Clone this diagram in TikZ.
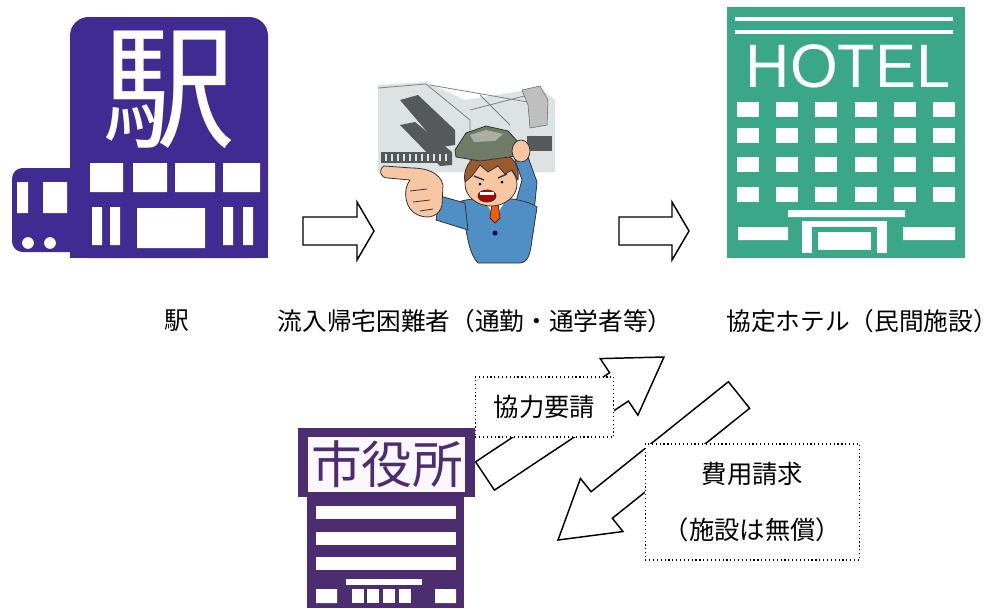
\documentclass[tikz,border=0pt]{standalone}
\usepackage{fontspec}
\setmainfont{Liberation Sans}
\newfontfamily\jp{Noto Sans CJK JP}
\usetikzlibrary{calc,positioning}
\definecolor{EkiPurple}{HTML}{3F2B91}
\definecolor{CityPurple}{HTML}{4B2D70}
\definecolor{CityLight}{HTML}{FAF7FD}
\definecolor{HotelGreen}{HTML}{3AA888}
\definecolor{SuitBlue}{HTML}{4F8FC4}
\definecolor{Skin}{HTML}{F7C7A3}
\definecolor{Hair}{HTML}{9A5B2E}
\definecolor{Helmet}{HTML}{6F7B66}
\definecolor{Ruin}{HTML}{DCE3E2}
\definecolor{RuinDark}{HTML}{55595A}

% block arrow: tail, tip, shaft half width, head half width, head length
\newcommand{\fatarrow}[5]{%
  \coordinate (hb) at ($(#2)!#5!(#1)$);
  \draw[fat arrow] ($(#1)!#3!90:(#2)$) -- ($(hb)!#3!90:(#2)$) -- ($(hb)!#4!90:(#2)$)
    -- (#2) -- ($(hb)!#4!-90:(#2)$) -- ($(hb)!#3!-90:(#2)$) -- ($(#1)!#3!-90:(#2)$) -- cycle;
}

\begin{document}
\begin{tikzpicture}[
          x=0.75pt, y=-0.75pt,
          fat arrow/.style={draw=black, fill=white, line width=1.1pt, line join=miter},
          lbl/.style={font=\jp\fontsize{18.5}{22}\selectfont, inner sep=0pt},
          note/.style={draw, dotted, line width=0.9pt, fill=white, align=center, font=\jp\fontsize{19}{42.5}\selectfont},
          toon/.style={draw=black!80, line width=0.6pt, line join=round}
        ]
          \useasboundingbox (0,0) rectangle (1003,608);
          \fill[white] (0,0) rectangle (1003,608);

          % station
          \fill[EkiPurple, rounded corners=8] (12,168) rectangle (90,252);
          \fill[EkiPurple, rounded corners=14] (70,17) rectangle (268,258);
          \fill[EkiPurple] (70,200) rectangle (268,258);
          \fill[white] (17,182) rectangle (28,213) (43,182) rectangle (67,213);
          \filldraw[fill=white, draw=EkiPurple, line width=1.5pt] (28,243) circle (7) (50,243) circle (7);
          \fill[white] (90,163) rectangle (123,192) (133,163) rectangle (167,192)
                       (175,163) rectangle (215,192) (223,163) rectangle (260,192);
          \fill[white] (92,207) rectangle (102,245) (110,207) rectangle (120,245)
                       (137,208) rectangle (205,248)
                       (223,207) rectangle (233,245) (243,207) rectangle (253,245);
          \node[text=white, font=\jp\fontsize{100}{100}\selectfont, inner sep=0pt] (ekisign) at (169,90) {駅};

          % traveller: ruined building behind
          \fill[Ruin] (378,85) -- (426,82) -- (465,100) -- (540,88) -- (555,100) -- (555,172) -- (378,172) -- cycle;
          \fill[RuinDark] (400,100) -- (418,95) -- (455,130) -- (455,145) -- (440,147) -- cycle;
          \fill[RuinDark] (400,125) -- (415,122) -- (452,152) -- (452,165) -- (440,166) -- cycle;
          \draw[gray, line width=0.6pt] (378,88) -- (426,84) -- (470,120) -- (470,170)
                (430,85) -- (545,105) (470,110) -- (540,92) (480,95) -- (510,125);
          \filldraw[fill=gray!50, draw=gray!80!black] (522,90) -- (540,86) -- (548,100) -- (547,125) -- (530,128) -- (528,105) -- cycle;
          \fill[RuinDark] (527,136) rectangle (552,151);
          \fill[RuinDark] (381,152) rectangle (450,163);
          \foreach \x in {386,392,...,446}
            \draw[Ruin, line width=1pt] (\x,154) -- (\x,161);

          % traveller: man with helmet
          \filldraw[toon, fill=SuitBlue] (515,205) -- (522,180) -- (515,160) -- (528,157) -- (537,182) -- (534,212) -- cycle;
          \filldraw[toon, fill=SuitBlue] (450,205) .. controls (470,195) and (520,195) .. (537,207)
            -- (532,240) .. controls (530,255) and (528,262) .. (520,263) -- (478,263)
            .. controls (470,255) and (468,240) .. (465,225) -- cycle;
          \fill[white] (484,200) -- (506,200) -- (495,217) -- cycle;
          \filldraw[toon, fill=orange!70!red] (492,204) -- (498,204) -- (500,218) -- (495,223) -- (490,218) -- cycle;
          \fill[blue!40!black] (495,233) circle (2.5);
          \filldraw[toon, fill=SuitBlue] (465,203) -- (440,196) -- (436,220) -- (468,230) -- cycle;
          \filldraw[toon, fill=Skin] (384,166) .. controls (378,170) and (380,178) .. (388,178) -- (410,180)
            .. controls (402,190) and (405,210) .. (418,215) .. controls (430,220) and (440,215) .. (442,205)
            -- (443,185) .. controls (440,172) and (425,168) .. (412,168) -- cycle;
          \draw[toon] (410,191) -- (427,189) (413,202) -- (430,200) (420,211) -- (433,209);
          \filldraw[toon, fill=Skin] (491,184) ellipse (26 and 22);
          \filldraw[toon, fill=Hair] (465,182) .. controls (462,165) and (475,152) .. (492,152)
            .. controls (510,152) and (520,162) .. (518,180) -- (512,170) -- (505,174) -- (498,166)
            -- (488,172) -- (480,165) -- (472,176) -- cycle;
          \filldraw[toon, fill=Helmet] (455,150) -- (466,133) -- (486,126) -- (508,131) -- (519,143)
            -- (516,156) -- (480,161) -- (456,157) -- cycle;
          \fill[Helmet!60!white] (470,135) -- (486,130) -- (503,134) -- (495,141) -- (474,142) -- cycle;
          \filldraw[toon, fill=Skin] (521,151) ellipse (9 and 11);
          \draw[toon, line width=1pt] (474,176) -- (484,180) (498,178) -- (507,174);
          \fill (480,184) circle (1.5) (502,182) circle (1.5);
          \filldraw[toon, fill=red!70!black] (487,196) ellipse (9 and 6);
          \fill[white] (480,192) rectangle (494,194.5);

          % hotel
          \fill[HotelGreen] (727,7) rectangle (965,258);
          \draw[white, line width=2.5pt] (735,19) -- (953,19) (735,32) -- (953,32);
          \node[text=white, font=\fontsize{46}{46}\selectfont, inner sep=0pt] (hotelsign) at (848,66) {HOTEL};
          \foreach \x in {737,776,815,855,894,933}
            \foreach \y in {102,128,157,187}
              \fill[white] (\x,\y) rectangle ++(22,15);
          \fill[white] (788,210) rectangle (905,217) (738,227) rectangle (788,240) (903,227) rectangle (955,240);
          \fill[white] (802,221) rectangle (887,253);
          \fill[HotelGreen] (812,227) rectangle (877,253);
          \fill[white] (818,232) rectangle (871,250);

          % city hall
          \fill[CityPurple] (298,428) rectangle (475,497);
          \fill[CityLight] (308,437) rectangle (465,492);
          \node[text=CityPurple, font=\jp\fontsize{38}{38}\selectfont, inner sep=0pt] (shiyakusho) at (387,464) {市役所};
          \fill[CityPurple] (307,497) rectangle (464,608);
          \foreach \y in {506,532,557}
            \fill[white] (316,\y) rectangle (456,\y+13);
          \fill[white] (346,579) rectangle (422,585);
          \fill[white] (316,589) rectangle (337,603) (435,589) rectangle (456,603);
          \foreach \x in {352,367,383,399}
            \fill[white] (\x,589) rectangle ++(12,14);

          % captions
          \node[lbl] (eki) at (177,321) {駅};
          \node[lbl] (kitaku) at (475,321) {流入帰宅困難者（通勤・通学者等）};
          \node[lbl] (kyotei) at (862,321) {協定ホテル（民間施設）};

          % flow arrows
          \coordinate (go1) at (303,231);
          \coordinate (to1) at (374,231);
          \coordinate (go2) at (619,231);
          \coordinate (to2) at (689,231);
          \fatarrow{go1}{to1}{10.5pt}{21.75pt}{12.75pt}
          \fatarrow{go2}{to2}{10.5pt}{21.75pt}{12.75pt}

          % request and billing
          \coordinate (req0) at (485,476);
          \coordinate (req1) at (664,357);
          \fatarrow{req0}{req1}{12.75pt}{25.5pt}{40.5pt}
          \node[note, minimum width=104pt, minimum height=45pt] (kyoryoku) at (544.5,407) {協力要請};
          \coordinate (bill0) at (739,395);
          \coordinate (bill1) at (558,540);
          \fatarrow{bill0}{bill1}{12.75pt}{25.5pt}{42pt}
          \node[note, minimum width=161pt, minimum height=87pt] (hiyo) at (752.5,502) {費用請求\\（施設は無償）};
        \end{tikzpicture}
\end{document}
